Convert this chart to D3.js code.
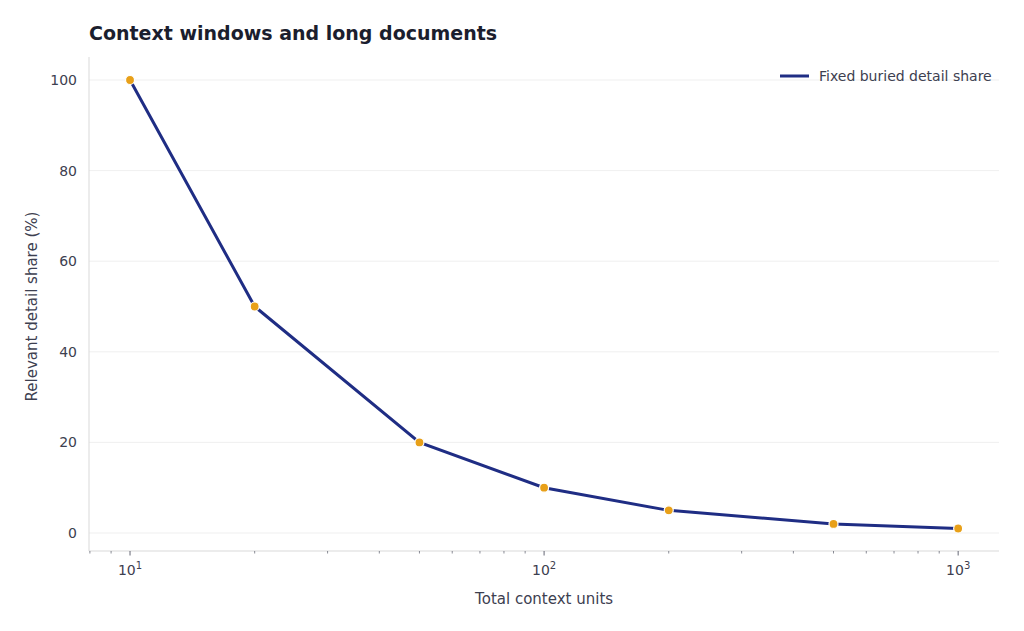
<!DOCTYPE html>
<html>
<head>
<meta charset="utf-8">
<script src="https://cdn.jsdelivr.net/npm/d3@7"></script>
<style>
  body { margin: 0; background: #fff; font-family: "DejaVu Sans", sans-serif; }
</style>
</head>
<body>
<svg id="chart" width="1024" height="631"></svg>
<script>
// data
const contextUnits = [10, 20, 50, 100, 200, 500, 1000];
const detailShare = [100, 50, 20, 10, 5, 2, 1];
const yTicks = [0, 20, 40, 60, 80, 100];
const xMajorTicks = [10, 100, 1000];
const seriesName = "Fixed buried detail share";

const margin = { top: 57, right: 25, bottom: 80, left: 89 };
const width = 1024 - margin.left - margin.right;
const height = 631 - margin.top - margin.bottom;

const svg = d3.select("#chart");
const g = svg.append("g").attr("transform", "translate(" + margin.left + "," + margin.top + ")");

const x = d3.scaleLog().domain([7.96, 1255]).range([0, width]);
const y = d3.scaleLinear().domain([-3.97, 105.08]).range([height, 0]);

// grid
g.selectAll(".grid").data(yTicks).enter().append("line")
  .attr("x1", 0).attr("x2", width)
  .attr("y1", d => y(d)).attr("y2", d => y(d))
  .attr("stroke", "#ebebeb").attr("stroke-width", 0.8);

// spines
g.append("line").attr("x1", 0).attr("x2", 0).attr("y1", 0).attr("y2", height).attr("stroke", "#d9d9d9");
g.append("line").attr("x1", 0).attr("x2", width).attr("y1", height).attr("y2", height).attr("stroke", "#d9d9d9");

// y axis
const yAxis = g.append("g").call(d3.axisLeft(y).tickValues(yTicks).tickSize(0).tickPadding(12));
yAxis.select(".domain").remove();
yAxis.selectAll("text").attr("font-size", 14).attr("fill", "#3d4050").attr("font-family", "DejaVu Sans");

// x minor ticks
const minor = [];
[1, 10, 100, 1000].forEach(dec => { for (let k = 2; k <= 9; k++) { const v = dec * k; if (v > 7.96 && v < 1255) minor.push(v); } });
g.selectAll(".minor").data(minor).enter().append("line")
  .attr("x1", d => x(d)).attr("x2", d => x(d))
  .attr("y1", height).attr("y2", height + 2.5)
  .attr("stroke", "#3d4050").attr("stroke-width", 0.6);
g.selectAll(".major").data(xMajorTicks).enter().append("line")
  .attr("x1", d => x(d)).attr("x2", d => x(d))
  .attr("y1", height).attr("y2", height + 4.5)
  .attr("stroke", "#3d4050").attr("stroke-width", 0.8);
const xl = g.selectAll(".xl").data(xMajorTicks).enter().append("text")
  .attr("x", d => x(d)).attr("y", height + 24)
  .attr("text-anchor", "middle").attr("font-size", 14).attr("fill", "#3d4050");
xl.append("tspan").text("10");
xl.append("tspan").attr("dy", -6).attr("font-size", 10).text(d => Math.round(Math.log10(d)));

// axis titles
svg.append("text").attr("x", margin.left + x(100)).attr("y", 604).attr("text-anchor", "middle")
  .attr("font-size", 15).attr("fill", "#3d4050").text("Total context units");
svg.append("text").attr("transform", "translate(37," + (margin.top + y(50)) + ") rotate(-90)")
  .attr("text-anchor", "middle").attr("font-size", 15).attr("fill", "#3d4050").text("Relevant detail share (%)");

// title
svg.append("text").attr("x", 89).attr("y", 40).attr("font-size", 19).attr("font-weight", "bold")
  .attr("fill", "#1b1e2e").text("Context windows and long documents");

// line
const pts = contextUnits.map((u, i) => ({ u: u, v: detailShare[i] }));
g.append("path").datum(pts)
  .attr("fill", "none").attr("stroke", "#1f2d84").attr("stroke-width", 3)
  .attr("d", d3.line().x(d => x(d.u)).y(d => y(d.v)));
g.selectAll(".pt").data(pts).enter().append("circle")
  .attr("cx", d => x(d.u)).attr("cy", d => y(d.v)).attr("r", 4.5)
  .attr("fill", "#e8a019").attr("stroke", "#fff").attr("stroke-width", 1.2);

// legend
svg.append("line").attr("x1", 780).attr("x2", 809).attr("y1", 76).attr("y2", 76)
  .attr("stroke", "#1f2d84").attr("stroke-width", 3);
svg.append("text").attr("x", 819).attr("y", 81).attr("font-size", 14).attr("fill", "#3d4050").text(seriesName);
</script>
</body>
</html>
